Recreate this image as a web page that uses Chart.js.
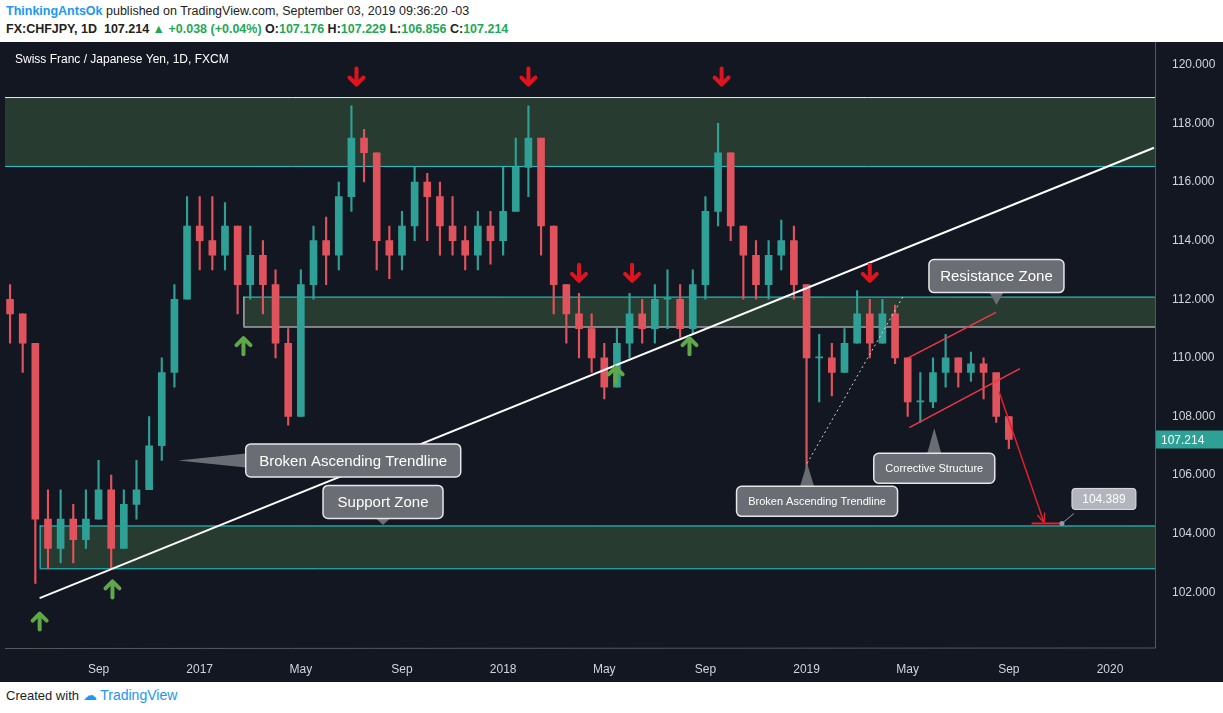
<!DOCTYPE html>
<html><head><meta charset="utf-8">
<script src="https://cdn.jsdelivr.net/npm/chart.js@4/dist/chart.umd.min.js"></script>
<style>
body{margin:0;width:1223px;height:713px;background:#fff;font-family:Arial,"Liberation Sans",sans-serif;position:relative;overflow:hidden}
#h1{position:absolute;left:6px;top:4px;font-size:12.5px;color:#222}
#h2{position:absolute;left:6px;top:22px;font-size:12.5px;color:#222;font-weight:bold}
#wrap{position:absolute;left:0;top:42px;width:1223px;height:640px;background:#131722}
#foot{position:absolute;left:6px;top:687px;font-size:13px;color:#222}
.g{color:#1fa855}
</style></head><body>
<div id="h1"><b style="color:#2196f3">ThinkingAntsOk</b> published on TradingView.com, September 03, 2019 09:36:20 -03</div>
<div id="h2">FX:CHFJPY, 1D&nbsp; 107.214 <span class="g">▲ +0.038 (+0.04%)</span> O:<span class="g">107.176</span> H:<span class="g">107.229</span> L:<span class="g">106.856</span> C:<span class="g">107.214</span></div>
<div id="wrap"><canvas id="c" width="1223" height="640"></canvas></div>
<div id="foot">Created with <span style="color:#2196f3;font-size:14px">☁ TradingView</span></div>
<script>
// time in months since Jan 2016, half-month candles
const startT = 4.5, stepT = 0.5;
const closes = [111.5,110.5,104.5,103.5,104.5,103.8,104.5,105.5,103.5,105,105.5,107,109.5,112,114.5,114,113.5,114.5,112.5,113.5,112.5,110.5,108,112.5,114,113.5,115.5,117.5,117,114,113.5,114.5,116,115.5,114.5,114,113.5,114.5,114,115,116.5,117.5,114.5,112.5,111.5,111,110,109,110.5,111.5,111,112,112,111,112.5,115,117,114.5,113.5,112.5,113.5,114,112.5,110,110,109.5,110.5,111.5,110.5,111.5,110,108.5,108.5,109.5,110,109.5,109.8,109.5,108,107.214];
const highs = [112.5,111.5,110.5,105.5,105.5,105,105.5,106.5,106,105.5,106.5,108,110,112.5,115.5,115.5,115.5,115.3,114.5,114.5,114,113,111,113,114.5,114.8,116,118.6,117.8,117,114.5,115,116.5,116.3,116,115.5,114.5,115,115,116.5,117.5,118.6,116,114.5,112.5,112.2,111.5,110.5,111,112.2,112,112.5,113,112.5,113,115.5,118,117,114.5,114,114,114.7,114.5,112.5,110.8,110.5,111,112.3,112,112,111.8,110,109.5,110,110.8,110,110.2,110,109.3,108];
const lows = [110.5,109.5,102.3,102.8,103,103,103.5,104.5,102.8,103.5,104.5,105.5,106.5,109,112,113,113,113,111.5,112,111.5,110,107.7,108,112,112.5,113,115,116,113,112.7,113,114,114,113.5,113.5,113,113,113.2,113.5,115,115.5,113.5,111.5,110.5,110,109.5,108.6,109,110,110.5,110.5,111,110.7,110.8,112,114.5,114,112,112,112,113,112,106.2,108.5,108.7,109.5,110.5,110,110.5,109.8,108,107.8,108.3,109,109,109.2,108.6,107.8,106.9];
const yTicks = [102,104,106,108,110,112,114,116,118,120];
const xTickVals = [8,12,16,20,24,28,32,36,40,44,48];
const xTickLabels = ['Sep','2017','May','Sep','2018','May','Sep','2019','May','Sep','2020'];
// zones [fromT, low, high]
const zones = [[4.3,116.55,118.9],[13.73,111.07,112.09],[5.67,102.82,104.28]];
const trend = [[5.67,101.8],[49.74,117.17]];
const dotted = [[36.02,106.4],[39.86,112.16]];
const channel = [[[39.98,109.98],[43.49,111.55]],[[40.06,107.62],[44.44,109.63]]];
const projArrow = [[43.61,108.85],[45.39,104.38]];
const targetLine = [[44.9,104.35],[46.1,104.35]];
const downArrows = [[18.2,119.6],[25.0,119.6],[32.64,119.6],[27.0,112.9],[29.1,112.9],[38.5,112.9]];
const upArrows = [[5.67,101.0],[8.55,102.1],[13.73,110.4],[28.45,109.4],[31.37,110.4]];
const lastPrice = 107.214, targetPrice = 104.389;

const opens = closes.map((c,i)=> i===0 ? 112 : closes[i-1]);
const times = closes.map((c,i)=> startT + i*stepT);
const up = closes.map((c,i)=> c>=opens[i]);
const UPC='#2ea096', DNC='#e0535c';

const overlay = {
 id:'ov',
 beforeDatasetsDraw(ch){
  const {ctx,chartArea:a,scales:{x,y}}=ch;
  ctx.save(); ctx.beginPath(); ctx.rect(a.left,a.top,a.right-a.left,a.bottom-a.top); ctx.clip();
  zones.forEach((z,i)=>{
   const x0=x.getPixelForValue(z[0]), y1=y.getPixelForValue(z[2]), y0=y.getPixelForValue(z[1]);
   ctx.fillStyle='rgba(56,90,60,0.55)'; ctx.fillRect(x0,y1,a.right-x0,y0-y1);
   ctx.lineWidth=1;
   ctx.strokeStyle = i===0?'#e8e8e8':'#22d3d6'; ctx.beginPath(); ctx.moveTo(x0,y1+.5); ctx.lineTo(a.right,y1+.5); ctx.stroke();
   ctx.strokeStyle = i===1?'#e8e8e8':'#22d3d6'; ctx.beginPath(); ctx.moveTo(x0,y0+.5); ctx.lineTo(a.right,y0+.5); ctx.stroke();
   if(i>0){ctx.strokeStyle=i===2?'#22d3d6':'#e8e8e8';ctx.beginPath();ctx.moveTo(x0+.5,y1);ctx.lineTo(x0+.5,y0);ctx.stroke();}
  });
  ctx.restore();
 },
 afterDatasetsDraw(ch){
  const {ctx,chartArea:a,scales:{x,y}}=ch;
  const P=p=>[x.getPixelForValue(p[0]),y.getPixelForValue(p[1])];
  const line=(p,q,col,w,dash)=>{const A=P(p),B=P(q);ctx.strokeStyle=col;ctx.lineWidth=w;ctx.setLineDash(dash||[]);ctx.beginPath();ctx.moveTo(A[0],A[1]);ctx.lineTo(B[0],B[1]);ctx.stroke();ctx.setLineDash([]);};
  ctx.save(); ctx.beginPath(); ctx.rect(a.left,0,a.right-a.left,a.bottom); ctx.clip();
  line(trend[0],trend[1],'#ffffff',2);
  line(dotted[0],dotted[1],'#d0d0d0',1,[2,3]);
  channel.forEach(c=>line(c[0],c[1],'#f23645',1.5));
  line(targetLine[0],targetLine[1],'#e0202a',2);
  {const A=P(projArrow[0]),B=P(projArrow[1]);line(projArrow[0],projArrow[1],'#e0202a',1.5);
   const ang=Math.atan2(B[1]-A[1],B[0]-A[0]);ctx.strokeStyle='#e0202a';ctx.lineWidth=1.5;ctx.beginPath();
   ctx.moveTo(B[0]-10*Math.cos(ang-0.4),B[1]-10*Math.sin(ang-0.4));ctx.lineTo(B[0],B[1]);ctx.lineTo(B[0]-10*Math.cos(ang+0.4),B[1]-10*Math.sin(ang+0.4));ctx.stroke();}
  const arrow=(p,dir,col)=>{const [cx,cy]=P(p);ctx.strokeStyle=col;ctx.lineWidth=4;ctx.lineCap='round';ctx.lineJoin='round';
   ctx.beginPath();ctx.moveTo(cx,cy-8*dir);ctx.lineTo(cx,cy+7*dir);ctx.stroke();
   ctx.beginPath();ctx.moveTo(cx-7,cy+1*dir);ctx.lineTo(cx,cy+8*dir);ctx.lineTo(cx+7,cy+1*dir);ctx.stroke();ctx.lineCap='butt';};
  downArrows.forEach(p=>arrow(p,1,'#e0141e'));
  upArrows.forEach(p=>arrow(p,-1,'#5fa84a'));
  {const [tx,ty]=P(targetLine[1]);ctx.fillStyle='#9598a1';ctx.beginPath();ctx.arc(tx,ty,2.5,0,7);ctx.fill();
   ctx.strokeStyle='#9598a1';ctx.lineWidth=1;ctx.beginPath();ctx.moveTo(tx,ty);ctx.lineTo(tx+12,ty-10);ctx.stroke();
   ctx.fillStyle='#b2b5be';ctx.strokeStyle='#e0e0e0';rr(ctx,tx+10,ty-35,64,21,3);ctx.fill();ctx.stroke();
   ctx.fillStyle='#ffffff';ctx.font='12px Arial';ctx.textAlign='center';ctx.textBaseline='middle';ctx.fillText(targetPrice.toFixed(3),tx+42,ty-24);}
  const callout=(anchor,dx,dy,w,h,txt,fs)=>{const [ax,ay]=P(anchor);const bx=ax+dx-w/2,by=ay+dy-h/2;
   ctx.fillStyle='#6a6d73';ctx.strokeStyle='#e6e6e6';ctx.lineWidth=1.5;
   ctx.beginPath();
   ctx.moveTo(ax,ay);
   if(Math.abs(dx)>w/2){const ex=dx>0?bx:bx+w;ctx.lineTo(ex,ay+dy-7);ctx.lineTo(ex,ay+dy+7);}
   else if(dy>0){ctx.lineTo(ax-7,by);ctx.lineTo(ax+7,by);} else {ctx.lineTo(ax-7,by+h);ctx.lineTo(ax+7,by+h);}
   ctx.closePath();ctx.fill();
   rr(ctx,bx,by,w,h,5);ctx.fill();ctx.stroke();
   ctx.fillStyle='#ffffff';ctx.font=fs+'px Arial';ctx.textAlign='center';ctx.textBaseline='middle';ctx.fillText(txt,bx+w/2,by+h/2+1);};
  callout([43.51,111.8],0,-29,135,33,'Resistance Zone',15);
  callout([11.15,106.5],175,0,215,33,'Broken Ascending Trendline',15);
  callout([19.25,104.3],0,-23,120,33,'Support Zone',15);
  callout([36.02,106.4],10,38,161,30,'Broken Ascending Trendline',11);
  callout([41.05,107.6],0,40,121,30,'Corrective Structure',11);
  ctx.restore();
 },
 afterDraw(ch){
  const {ctx,chartArea:a,scales:{y}}=ch;
  ctx.fillStyle='#ffffff';ctx.font='12px Arial';ctx.textAlign='left';ctx.textBaseline='middle';
  ctx.fillText('Swiss Franc / Japanese Yen, 1D, FXCM',15,18);
  const py=y.getPixelForValue(lastPrice);
  ctx.fillStyle='#2ea096';ctx.fillRect(a.right+1,py-9,67,18);
  ctx.fillStyle='#ffffff';ctx.fillText(lastPrice.toFixed(3),a.right+6,py+1);
  ctx.strokeStyle='#55585f';ctx.lineWidth=1;ctx.beginPath();ctx.moveTo(a.right+.5,0);ctx.lineTo(a.right+.5,a.bottom);ctx.lineTo(a.left,a.bottom+.5);ctx.stroke();
 }
};
function rr(ctx,x,y,w,h,r){ctx.beginPath();ctx.moveTo(x+r,y);ctx.arcTo(x+w,y,x+w,y+h,r);ctx.arcTo(x+w,y+h,x,y+h,r);ctx.arcTo(x,y+h,x,y,r);ctx.arcTo(x,y,x+w,y,r);ctx.closePath();}

new Chart(document.getElementById('c'),{
 type:'bar',
 data:{datasets:[
  {data:times.map((t,i)=>({x:t,y:[lows[i],highs[i]]})),backgroundColor:up.map(u=>u?UPC:DNC),barThickness:1.5,grouped:false,order:2},
  {data:times.map((t,i)=>({x:t,y:[opens[i],closes[i]]})),backgroundColor:up.map(u=>u?UPC:DNC),barThickness:7,minBarLength:1,grouped:false,order:1}
 ]},
 options:{responsive:false,animation:false,events:[],
  layout:{padding:{left:5,top:0,right:0,bottom:0}},
  plugins:{legend:{display:false},tooltip:{enabled:false}},
  scales:{
   x:{type:'linear',offset:false,min:4.3,max:49.78,grid:{display:false,offset:false},border:{display:false},
      afterBuildTicks:s=>{s.ticks=xTickVals.map(v=>({value:v}));},
      afterFit:s=>{s.height=34;},
      ticks:{color:'#d1d4dc',font:{size:12,family:'Arial'},maxRotation:0,autoSkip:false,padding:6,callback:v=>xTickLabels[xTickVals.indexOf(v)]}},
   y:{position:'right',min:100.1,max:120.225,grid:{display:false},border:{display:false},
      afterBuildTicks:s=>{s.ticks=yTicks.map(v=>({value:v}));},
      afterFit:s=>{s.width=68;},
      ticks:{color:'#d1d4dc',font:{size:12,family:'Arial'},padding:9,callback:v=>v.toFixed(3)}}
  }}
 ,plugins:[overlay]});
</script></body></html>
